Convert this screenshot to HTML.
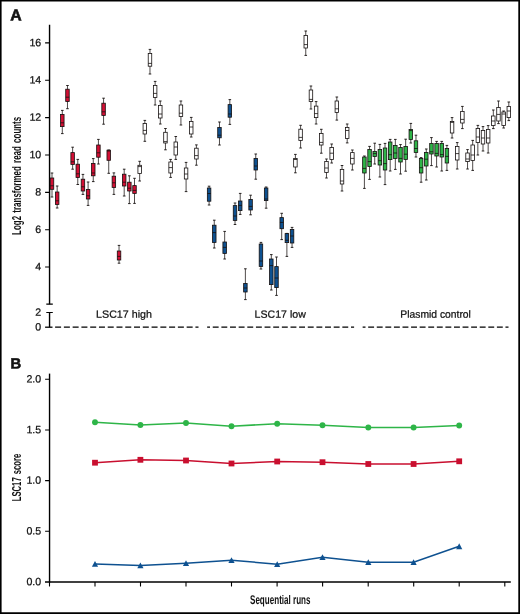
<!DOCTYPE html>
<html>
<head>
<meta charset="utf-8">
<title>Figure</title>
<style>
html,body{margin:0;padding:0;background:#fff;}
body{width:520px;height:614px;overflow:hidden;font-family:"Liberation Sans",sans-serif;}
svg{display:block;will-change:transform;}
svg text{font-family:"Liberation Sans",sans-serif;fill:#111;stroke:#111;stroke-width:0.24px;}
</style>
</head>
<body>
<svg width="520" height="614" viewBox="0 0 520 614">
<rect x="0" y="0" width="520" height="614" fill="#fff"/>
<path d="M0 0H520V614H0Z M1.6 1.4V612.25H518.3V1.4Z" fill="#000" fill-rule="evenodd"/>
<g stroke="#000" fill="none">
<path d="M49.55 24.8V304.2" stroke-width="1.4"/>
<path d="M46.3 304.15H52.8M46.3 312.45H52.8" stroke-width="1.1"/>
<path d="M49.55 312.45V327.2" stroke-width="1.4"/>
<path d="M45.1 42.9H49.55M45.1 80.3H49.55M45.1 117.6H49.55M45.1 155.0H49.55M45.1 192.35H49.55M45.1 229.7H49.55M45.1 267.05H49.55" stroke-width="1.1"/>
<path d="M45.1 327.2H52.5" stroke-width="1.3"/>
<path d="M55.1 327.2H198.5" stroke-width="1.3" stroke-dasharray="6 2.77"/>
<path d="M207.15 327.2H354.1" stroke-width="1.3" stroke-dasharray="5.9 2.74" stroke-dashoffset="3.05"/>
<path d="M362.65 327.2H508.5" stroke-width="1.3" stroke-dasharray="5.9 2.68" stroke-dashoffset="3.05"/>
<path d="M49.55 373.6V582.7" stroke-width="1.4"/>
<path d="M45.0 581.95H510.8" stroke-width="1.6"/>
<path d="M45.1 379.3H49.55M45.1 430.0H49.55M45.1 480.6H49.55M45.1 531.2H49.55" stroke-width="1.1"/>
<path d="M49.5 582.1V586.5M95.0 582.1V586.5M140.5 582.1V586.5M186.0 582.1V586.5M231.5 582.1V586.5M277.1 582.1V586.5M322.6 582.1V586.5M368.2 582.1V586.5M413.7 582.1V586.5M459.2 582.1V586.5M504.8 582.1V586.5" stroke-width="1.1"/>
</g>
<g stroke="#15100F" fill="none" stroke-linecap="butt">
<path d="M52.00 173.00V197.00" stroke-width="0.75"/><path d="M50.70 173.00h2.6M50.70 197.00h2.6" stroke-width="0.9"/><rect x="50.25" y="178.00" width="3.5" height="11.30" fill="#D20F34" stroke-width="0.8"/><path d="M50.25 185.80h3.5" stroke-width="0.8"/>
<path d="M57.16 186.00V208.00" stroke-width="0.75"/><path d="M55.86 186.00h2.6M55.86 208.00h2.6" stroke-width="0.9"/><rect x="55.41" y="192.00" width="3.5" height="12.40" fill="#D20F34" stroke-width="0.8"/><path d="M55.41 200.80h3.5" stroke-width="0.8"/>
<path d="M62.31 110.40V133.60" stroke-width="0.75"/><path d="M61.01 110.40h2.6M61.01 133.60h2.6" stroke-width="0.9"/><rect x="60.56" y="114.40" width="3.5" height="12.20" fill="#D20F34" stroke-width="0.8"/><path d="M60.56 122.80h3.5" stroke-width="0.8"/>
<path d="M67.47 85.50V108.70" stroke-width="0.75"/><path d="M66.17 85.50h2.6M66.17 108.70h2.6" stroke-width="0.9"/><rect x="65.72" y="89.20" width="3.5" height="12.30" fill="#D20F34" stroke-width="0.8"/><path d="M65.72 97.20h3.5" stroke-width="0.8"/>
<path d="M72.63 147.20V169.20" stroke-width="0.75"/><path d="M71.33 147.20h2.6M71.33 169.20h2.6" stroke-width="0.9"/><rect x="70.88" y="152.60" width="3.5" height="11.80" fill="#D20F34" stroke-width="0.8"/><path d="M70.88 161.80h3.5" stroke-width="0.8"/>
<path d="M77.78 159.40V184.50" stroke-width="0.75"/><path d="M76.48 159.40h2.6M76.48 184.50h2.6" stroke-width="0.9"/><rect x="76.03" y="164.20" width="3.5" height="13.40" fill="#D20F34" stroke-width="0.8"/><path d="M76.03 173.80h3.5" stroke-width="0.8"/>
<path d="M82.94 174.40V194.40" stroke-width="0.75"/><path d="M81.64 174.40h2.6M81.64 194.40h2.6" stroke-width="0.9"/><rect x="81.19" y="179.20" width="3.5" height="11.80" fill="#D20F34" stroke-width="0.8"/><path d="M81.19 186.80h3.5" stroke-width="0.8"/>
<path d="M88.10 182.00V205.40" stroke-width="0.75"/><path d="M86.80 182.00h2.6M86.80 205.40h2.6" stroke-width="0.9"/><rect x="86.35" y="189.40" width="3.5" height="9.60" fill="#D20F34" stroke-width="0.8"/><path d="M86.35 195.80h3.5" stroke-width="0.8"/>
<path d="M93.26 158.60V181.60" stroke-width="0.75"/><path d="M91.96 158.60h2.6M91.96 181.60h2.6" stroke-width="0.9"/><rect x="91.51" y="163.40" width="3.5" height="12.40" fill="#D20F34" stroke-width="0.8"/><path d="M91.51 173.00h3.5" stroke-width="0.8"/>
<path d="M98.41 139.40V164.00" stroke-width="0.75"/><path d="M97.11 139.40h2.6M97.11 164.00h2.6" stroke-width="0.9"/><rect x="96.66" y="145.00" width="3.5" height="12.20" fill="#D20F34" stroke-width="0.8"/><path d="M96.66 152.80h3.5" stroke-width="0.8"/>
<path d="M103.57 98.20V124.20" stroke-width="0.75"/><path d="M102.27 98.20h2.6M102.27 124.20h2.6" stroke-width="0.9"/><rect x="101.82" y="103.20" width="3.5" height="12.20" fill="#D20F34" stroke-width="0.8"/><path d="M101.82 111.80h3.5" stroke-width="0.8"/>
<path d="M108.73 150.00V173.30" stroke-width="0.75"/><path d="M107.43 150.00h2.6M107.43 173.30h2.6" stroke-width="0.9"/><rect x="106.98" y="150.20" width="3.5" height="10.10" fill="#D20F34" stroke-width="0.8"/><path d="M106.98 151.00h3.5" stroke-width="0.8"/>
<path d="M113.88 172.90V194.40" stroke-width="0.75"/><path d="M112.58 172.90h2.6M112.58 194.40h2.6" stroke-width="0.9"/><rect x="112.13" y="176.20" width="3.5" height="11.30" fill="#D20F34" stroke-width="0.8"/><path d="M112.13 182.80h3.5" stroke-width="0.8"/>
<path d="M119.04 245.40V263.20" stroke-width="0.75"/><path d="M117.74 245.40h2.6M117.74 263.20h2.6" stroke-width="0.9"/><rect x="117.29" y="251.00" width="3.5" height="9.00" fill="#D20F34" stroke-width="0.8"/><path d="M117.29 256.40h3.5" stroke-width="0.8"/>
<path d="M124.20 169.20V196.00" stroke-width="0.75"/><path d="M122.90 169.20h2.6M122.90 196.00h2.6" stroke-width="0.9"/><rect x="122.45" y="174.20" width="3.5" height="11.80" fill="#D20F34" stroke-width="0.8"/><path d="M122.45 182.20h3.5" stroke-width="0.8"/>
<path d="M129.36 175.80V203.60" stroke-width="0.75"/><path d="M128.06 175.80h2.6M128.06 203.60h2.6" stroke-width="0.9"/><rect x="127.61" y="182.20" width="3.5" height="8.80" fill="#D20F34" stroke-width="0.8"/><path d="M127.61 188.20h3.5" stroke-width="0.8"/>
<path d="M134.51 178.30V203.40" stroke-width="0.75"/><path d="M133.21 178.30h2.6M133.21 203.40h2.6" stroke-width="0.9"/><rect x="132.76" y="185.60" width="3.5" height="7.80" fill="#D20F34" stroke-width="0.8"/><path d="M132.76 190.40h3.5" stroke-width="0.8"/>
<path d="M139.67 161.30V181.00" stroke-width="0.75"/><path d="M138.37 161.30h2.6M138.37 181.00h2.6" stroke-width="0.9"/><rect x="137.92" y="165.30" width="3.5" height="8.10" fill="#FFFFFF" stroke-width="0.8"/><path d="M137.92 166.60h3.5" stroke-width="0.8"/>
<path d="M144.83 120.40V141.30" stroke-width="0.75"/><path d="M143.53 120.40h2.6M143.53 141.30h2.6" stroke-width="0.9"/><rect x="143.08" y="123.50" width="3.5" height="10.50" fill="#FFFFFF" stroke-width="0.8"/><path d="M143.08 130.40h3.5" stroke-width="0.8"/>
<path d="M149.98 49.40V74.00" stroke-width="0.75"/><path d="M148.68 49.40h2.6M148.68 74.00h2.6" stroke-width="0.9"/><rect x="148.23" y="53.40" width="3.5" height="12.80" fill="#FFFFFF" stroke-width="0.8"/><path d="M148.23 63.40h3.5" stroke-width="0.8"/>
<path d="M155.14 81.40V105.00" stroke-width="0.75"/><path d="M153.84 81.40h2.6M153.84 105.00h2.6" stroke-width="0.9"/><rect x="153.39" y="85.40" width="3.5" height="12.00" fill="#FFFFFF" stroke-width="0.8"/><path d="M153.39 93.40h3.5" stroke-width="0.8"/>
<path d="M160.30 101.00V124.00" stroke-width="0.75"/><path d="M159.00 101.00h2.6M159.00 124.00h2.6" stroke-width="0.9"/><rect x="158.55" y="105.40" width="3.5" height="12.60" fill="#FFFFFF" stroke-width="0.8"/><path d="M158.55 114.00h3.5" stroke-width="0.8"/>
<path d="M165.45 128.50V149.80" stroke-width="0.75"/><path d="M164.15 128.50h2.6M164.15 149.80h2.6" stroke-width="0.9"/><rect x="163.70" y="132.30" width="3.5" height="10.70" fill="#FFFFFF" stroke-width="0.8"/><path d="M163.70 141.60h3.5" stroke-width="0.8"/>
<path d="M170.61 159.40V177.40" stroke-width="0.75"/><path d="M169.31 159.40h2.6M169.31 177.40h2.6" stroke-width="0.9"/><rect x="168.86" y="162.00" width="3.5" height="11.00" fill="#FFFFFF" stroke-width="0.8"/><path d="M168.86 167.60h3.5" stroke-width="0.8"/>
<path d="M175.77 136.50V159.40" stroke-width="0.75"/><path d="M174.47 136.50h2.6M174.47 159.40h2.6" stroke-width="0.9"/><rect x="174.02" y="142.00" width="3.5" height="13.00" fill="#FFFFFF" stroke-width="0.8"/><path d="M174.02 147.00h3.5" stroke-width="0.8"/>
<path d="M180.93 101.00V125.00" stroke-width="0.75"/><path d="M179.62 101.00h2.6M179.62 125.00h2.6" stroke-width="0.9"/><rect x="179.18" y="105.00" width="3.5" height="11.40" fill="#FFFFFF" stroke-width="0.8"/><path d="M179.18 113.20h3.5" stroke-width="0.8"/>
<path d="M186.08 162.40V191.60" stroke-width="0.75"/><path d="M184.78 162.40h2.6M184.78 191.60h2.6" stroke-width="0.9"/><rect x="184.33" y="168.00" width="3.5" height="11.00" fill="#FFFFFF" stroke-width="0.8"/><path d="M184.33 174.00h3.5" stroke-width="0.8"/>
<path d="M191.24 117.40V137.00" stroke-width="0.75"/><path d="M189.94 117.40h2.6M189.94 137.00h2.6" stroke-width="0.9"/><rect x="189.49" y="121.40" width="3.5" height="12.60" fill="#FFFFFF" stroke-width="0.8"/><path d="M189.49 127.00h3.5" stroke-width="0.8"/>
<path d="M196.40 144.90V165.20" stroke-width="0.75"/><path d="M195.10 144.90h2.6M195.10 165.20h2.6" stroke-width="0.9"/><rect x="194.65" y="148.20" width="3.5" height="10.80" fill="#FFFFFF" stroke-width="0.8"/><path d="M194.65 155.60h3.5" stroke-width="0.8"/>
<path d="M209.10 186.20V205.00" stroke-width="0.75"/><path d="M207.80 186.20h2.6M207.80 205.00h2.6" stroke-width="0.9"/><rect x="207.35" y="188.00" width="3.5" height="13.20" fill="#0E5190" stroke-width="0.8"/><path d="M207.35 193.50h3.5" stroke-width="0.8"/>
<path d="M214.28 220.20V248.00" stroke-width="0.75"/><path d="M212.98 220.20h2.6M212.98 248.00h2.6" stroke-width="0.9"/><rect x="212.53" y="225.20" width="3.5" height="17.20" fill="#0E5190" stroke-width="0.8"/><path d="M212.53 232.60h3.5" stroke-width="0.8"/>
<path d="M219.47 122.00V145.00" stroke-width="0.75"/><path d="M218.17 122.00h2.6M218.17 145.00h2.6" stroke-width="0.9"/><rect x="217.72" y="127.50" width="3.5" height="10.30" fill="#0E5190" stroke-width="0.8"/><path d="M217.72 135.20h3.5" stroke-width="0.8"/>
<path d="M224.66 231.40V259.00" stroke-width="0.75"/><path d="M223.35 231.40h2.6M223.35 259.00h2.6" stroke-width="0.9"/><rect x="222.91" y="242.00" width="3.5" height="11.40" fill="#0E5190" stroke-width="0.8"/><path d="M222.91 247.40h3.5" stroke-width="0.8"/>
<path d="M229.84 99.60V124.40" stroke-width="0.75"/><path d="M228.54 99.60h2.6M228.54 124.40h2.6" stroke-width="0.9"/><rect x="228.09" y="104.60" width="3.5" height="12.60" fill="#0E5190" stroke-width="0.8"/><path d="M228.09 114.00h3.5" stroke-width="0.8"/>
<path d="M235.02 203.00V224.50" stroke-width="0.75"/><path d="M233.72 203.00h2.6M233.72 224.50h2.6" stroke-width="0.9"/><rect x="233.27" y="205.60" width="3.5" height="14.80" fill="#0E5190" stroke-width="0.8"/><path d="M233.27 216.00h3.5" stroke-width="0.8"/>
<path d="M240.21 193.40V214.40" stroke-width="0.75"/><path d="M238.91 193.40h2.6M238.91 214.40h2.6" stroke-width="0.9"/><rect x="238.46" y="201.00" width="3.5" height="9.60" fill="#0E5190" stroke-width="0.8"/><path d="M238.46 205.40h3.5" stroke-width="0.8"/>
<path d="M245.39 268.80V299.60" stroke-width="0.75"/><path d="M244.09 268.80h2.6M244.09 299.60h2.6" stroke-width="0.9"/><rect x="243.64" y="283.40" width="3.5" height="8.60" fill="#0E5190" stroke-width="0.8"/><path d="M243.64 288.00h3.5" stroke-width="0.8"/>
<path d="M250.58 195.20V214.80" stroke-width="0.75"/><path d="M249.28 195.20h2.6M249.28 214.80h2.6" stroke-width="0.9"/><rect x="248.83" y="199.40" width="3.5" height="10.60" fill="#0E5190" stroke-width="0.8"/><path d="M248.83 206.40h3.5" stroke-width="0.8"/>
<path d="M255.76 154.00V179.20" stroke-width="0.75"/><path d="M254.46 154.00h2.6M254.46 179.20h2.6" stroke-width="0.9"/><rect x="254.01" y="158.40" width="3.5" height="11.60" fill="#0E5190" stroke-width="0.8"/><path d="M254.01 166.00h3.5" stroke-width="0.8"/>
<path d="M260.95 242.40V269.00" stroke-width="0.75"/><path d="M259.65 242.40h2.6M259.65 269.00h2.6" stroke-width="0.9"/><rect x="259.20" y="244.00" width="3.5" height="22.40" fill="#0E5190" stroke-width="0.8"/><path d="M259.20 261.00h3.5" stroke-width="0.8"/>
<path d="M266.13 187.00V208.20" stroke-width="0.75"/><path d="M264.83 187.00h2.6M264.83 208.20h2.6" stroke-width="0.9"/><rect x="264.38" y="188.00" width="3.5" height="12.60" fill="#0E5190" stroke-width="0.8"/><path d="M264.38 199.00h3.5" stroke-width="0.8"/>
<path d="M271.32 254.60V290.00" stroke-width="0.75"/><path d="M270.02 254.60h2.6M270.02 290.00h2.6" stroke-width="0.9"/><rect x="269.57" y="259.00" width="3.5" height="25.60" fill="#0E5190" stroke-width="0.8"/><path d="M269.57 265.60h3.5" stroke-width="0.8"/>
<path d="M276.50 257.00V295.40" stroke-width="0.75"/><path d="M275.20 257.00h2.6M275.20 295.40h2.6" stroke-width="0.9"/><rect x="274.75" y="266.60" width="3.5" height="21.00" fill="#0E5190" stroke-width="0.8"/><path d="M274.75 278.00h3.5" stroke-width="0.8"/>
<path d="M281.69 213.30V239.60" stroke-width="0.75"/><path d="M280.39 213.30h2.6M280.39 239.60h2.6" stroke-width="0.9"/><rect x="279.94" y="217.60" width="3.5" height="11.10" fill="#0E5190" stroke-width="0.8"/><path d="M279.94 222.40h3.5" stroke-width="0.8"/>
<path d="M286.88 233.40V256.40" stroke-width="0.75"/><path d="M285.57 233.40h2.6M285.57 256.40h2.6" stroke-width="0.9"/><rect x="285.12" y="233.60" width="3.5" height="9.00" fill="#0E5190" stroke-width="0.8"/><path d="M285.12 240.30h3.5" stroke-width="0.8"/>
<path d="M292.06 227.40V247.40" stroke-width="0.75"/><path d="M290.76 227.40h2.6M290.76 247.40h2.6" stroke-width="0.9"/><rect x="290.31" y="229.40" width="3.5" height="13.60" fill="#0E5190" stroke-width="0.8"/><path d="M290.31 236.00h3.5" stroke-width="0.8"/>
<path d="M295.40 154.40V172.80" stroke-width="0.75"/><path d="M294.10 154.40h2.6M294.10 172.80h2.6" stroke-width="0.9"/><rect x="293.65" y="158.40" width="3.5" height="8.60" fill="#FFFFFF" stroke-width="0.8"/><path d="M293.65 159.50h3.5" stroke-width="0.8"/>
<path d="M300.58 125.30V148.00" stroke-width="0.75"/><path d="M299.28 125.30h2.6M299.28 148.00h2.6" stroke-width="0.9"/><rect x="298.83" y="129.20" width="3.5" height="11.20" fill="#FFFFFF" stroke-width="0.8"/><path d="M298.83 137.40h3.5" stroke-width="0.8"/>
<path d="M305.76 31.00V55.40" stroke-width="0.75"/><path d="M304.46 31.00h2.6M304.46 55.40h2.6" stroke-width="0.9"/><rect x="304.01" y="35.40" width="3.5" height="12.60" fill="#FFFFFF" stroke-width="0.8"/><path d="M304.01 44.60h3.5" stroke-width="0.8"/>
<path d="M310.94 86.00V109.00" stroke-width="0.75"/><path d="M309.64 86.00h2.6M309.64 109.00h2.6" stroke-width="0.9"/><rect x="309.19" y="90.00" width="3.5" height="11.40" fill="#FFFFFF" stroke-width="0.8"/><path d="M309.19 99.40h3.5" stroke-width="0.8"/>
<path d="M316.12 101.60V124.00" stroke-width="0.75"/><path d="M314.82 101.60h2.6M314.82 124.00h2.6" stroke-width="0.9"/><rect x="314.37" y="106.10" width="3.5" height="11.50" fill="#FFFFFF" stroke-width="0.8"/><path d="M314.37 113.60h3.5" stroke-width="0.8"/>
<path d="M321.30 129.30V153.20" stroke-width="0.75"/><path d="M320.00 129.30h2.6M320.00 153.20h2.6" stroke-width="0.9"/><rect x="319.55" y="133.40" width="3.5" height="11.60" fill="#FFFFFF" stroke-width="0.8"/><path d="M319.55 142.40h3.5" stroke-width="0.8"/>
<path d="M326.48 159.00V178.00" stroke-width="0.75"/><path d="M325.18 159.00h2.6M325.18 178.00h2.6" stroke-width="0.9"/><rect x="324.73" y="161.40" width="3.5" height="11.00" fill="#FFFFFF" stroke-width="0.8"/><path d="M324.73 168.00h3.5" stroke-width="0.8"/>
<path d="M331.66 144.00V163.00" stroke-width="0.75"/><path d="M330.36 144.00h2.6M330.36 163.00h2.6" stroke-width="0.9"/><rect x="329.91" y="147.40" width="3.5" height="12.10" fill="#FFFFFF" stroke-width="0.8"/><path d="M329.91 153.20h3.5" stroke-width="0.8"/>
<path d="M336.84 97.00V120.10" stroke-width="0.75"/><path d="M335.54 97.00h2.6M335.54 120.10h2.6" stroke-width="0.9"/><rect x="335.09" y="101.00" width="3.5" height="11.40" fill="#FFFFFF" stroke-width="0.8"/><path d="M335.09 108.80h3.5" stroke-width="0.8"/>
<path d="M342.02 165.50V191.00" stroke-width="0.75"/><path d="M340.72 165.50h2.6M340.72 191.00h2.6" stroke-width="0.9"/><rect x="340.27" y="169.40" width="3.5" height="14.60" fill="#FFFFFF" stroke-width="0.8"/><path d="M340.27 181.00h3.5" stroke-width="0.8"/>
<path d="M347.20 124.00V142.90" stroke-width="0.75"/><path d="M345.90 124.00h2.6M345.90 142.90h2.6" stroke-width="0.9"/><rect x="345.45" y="127.40" width="3.5" height="11.00" fill="#FFFFFF" stroke-width="0.8"/><path d="M345.45 130.50h3.5" stroke-width="0.8"/>
<path d="M352.38 150.00V170.00" stroke-width="0.75"/><path d="M351.08 150.00h2.6M351.08 170.00h2.6" stroke-width="0.9"/><rect x="350.63" y="152.60" width="3.5" height="11.40" fill="#FFFFFF" stroke-width="0.8"/><path d="M350.63 158.40h3.5" stroke-width="0.8"/>
<path d="M364.40 156.00V188.40" stroke-width="0.75"/><path d="M363.10 156.00h2.6M363.10 188.40h2.6" stroke-width="0.9"/><rect x="362.65" y="157.00" width="3.5" height="16.00" fill="#2EB548" stroke-width="0.8"/><path d="M362.65 168.40h3.5" stroke-width="0.8"/>
<path d="M369.56 146.40V179.40" stroke-width="0.75"/><path d="M368.26 146.40h2.6M368.26 179.40h2.6" stroke-width="0.9"/><rect x="367.81" y="149.40" width="3.5" height="17.20" fill="#2EB548" stroke-width="0.8"/><path d="M367.81 161.60h3.5" stroke-width="0.8"/>
<path d="M374.71 143.20V164.00" stroke-width="0.75"/><path d="M373.41 143.20h2.6M373.41 164.00h2.6" stroke-width="0.9"/><rect x="372.96" y="151.40" width="3.5" height="5.20" fill="#2EB548" stroke-width="0.8"/><path d="M372.96 153.60h3.5" stroke-width="0.8"/>
<path d="M379.87 144.40V177.00" stroke-width="0.75"/><path d="M378.57 144.40h2.6M378.57 177.00h2.6" stroke-width="0.9"/><rect x="378.12" y="149.40" width="3.5" height="15.60" fill="#2EB548" stroke-width="0.8"/><path d="M378.12 160.70h3.5" stroke-width="0.8"/>
<path d="M385.03 143.40V184.60" stroke-width="0.75"/><path d="M383.73 143.40h2.6M383.73 184.60h2.6" stroke-width="0.9"/><rect x="383.28" y="148.00" width="3.5" height="22.00" fill="#2EB548" stroke-width="0.8"/><path d="M383.28 163.60h3.5" stroke-width="0.8"/>
<path d="M390.19 139.40V171.00" stroke-width="0.75"/><path d="M388.88 139.40h2.6M388.88 171.00h2.6" stroke-width="0.9"/><rect x="388.44" y="142.00" width="3.5" height="17.60" fill="#2EB548" stroke-width="0.8"/><path d="M388.44 154.70h3.5" stroke-width="0.8"/>
<path d="M395.34 139.40V169.40" stroke-width="0.75"/><path d="M394.04 139.40h2.6M394.04 169.40h2.6" stroke-width="0.9"/><rect x="393.59" y="145.40" width="3.5" height="13.00" fill="#2EB548" stroke-width="0.8"/><path d="M393.59 153.00h3.5" stroke-width="0.8"/>
<path d="M400.50 144.60V174.00" stroke-width="0.75"/><path d="M399.20 144.60h2.6M399.20 174.00h2.6" stroke-width="0.9"/><rect x="398.75" y="147.40" width="3.5" height="14.60" fill="#2EB548" stroke-width="0.8"/><path d="M398.75 158.40h3.5" stroke-width="0.8"/>
<path d="M405.66 139.20V171.20" stroke-width="0.75"/><path d="M404.36 139.20h2.6M404.36 171.20h2.6" stroke-width="0.9"/><rect x="403.91" y="146.40" width="3.5" height="13.00" fill="#2EB548" stroke-width="0.8"/><path d="M403.91 154.20h3.5" stroke-width="0.8"/>
<path d="M410.81 123.40V143.00" stroke-width="0.75"/><path d="M409.51 123.40h2.6M409.51 143.00h2.6" stroke-width="0.9"/><rect x="409.06" y="129.40" width="3.5" height="10.20" fill="#2EB548" stroke-width="0.8"/><path d="M409.06 130.60h3.5" stroke-width="0.8"/>
<path d="M415.97 135.20V157.00" stroke-width="0.75"/><path d="M414.67 135.20h2.6M414.67 157.00h2.6" stroke-width="0.9"/><rect x="414.22" y="140.80" width="3.5" height="11.60" fill="#2EB548" stroke-width="0.8"/><path d="M414.22 148.50h3.5" stroke-width="0.8"/>
<path d="M421.13 157.60V182.20" stroke-width="0.75"/><path d="M419.83 157.60h2.6M419.83 182.20h2.6" stroke-width="0.9"/><rect x="419.38" y="158.40" width="3.5" height="14.60" fill="#2EB548" stroke-width="0.8"/><path d="M419.38 167.70h3.5" stroke-width="0.8"/>
<path d="M426.28 149.00V180.00" stroke-width="0.75"/><path d="M424.98 149.00h2.6M424.98 180.00h2.6" stroke-width="0.9"/><rect x="424.53" y="152.40" width="3.5" height="13.60" fill="#2EB548" stroke-width="0.8"/><path d="M424.53 159.20h3.5" stroke-width="0.8"/>
<path d="M431.44 137.60V165.60" stroke-width="0.75"/><path d="M430.14 137.60h2.6M430.14 165.60h2.6" stroke-width="0.9"/><rect x="429.69" y="143.40" width="3.5" height="10.60" fill="#2EB548" stroke-width="0.8"/><path d="M429.69 151.80h3.5" stroke-width="0.8"/>
<path d="M436.60 141.40V167.00" stroke-width="0.75"/><path d="M435.30 141.40h2.6M435.30 167.00h2.6" stroke-width="0.9"/><rect x="434.85" y="143.40" width="3.5" height="12.60" fill="#2EB548" stroke-width="0.8"/><path d="M434.85 153.40h3.5" stroke-width="0.8"/>
<path d="M441.75 141.40V171.00" stroke-width="0.75"/><path d="M440.45 141.40h2.6M440.45 171.00h2.6" stroke-width="0.9"/><rect x="440.00" y="143.40" width="3.5" height="13.60" fill="#2EB548" stroke-width="0.8"/><path d="M440.00 154.60h3.5" stroke-width="0.8"/>
<path d="M446.91 145.40V170.40" stroke-width="0.75"/><path d="M445.61 145.40h2.6M445.61 170.40h2.6" stroke-width="0.9"/><rect x="445.16" y="148.40" width="3.5" height="14.60" fill="#2EB548" stroke-width="0.8"/><path d="M445.16 156.40h3.5" stroke-width="0.8"/>
<path d="M452.07 117.60V138.00" stroke-width="0.75"/><path d="M450.77 117.60h2.6M450.77 138.00h2.6" stroke-width="0.9"/><rect x="450.32" y="121.40" width="3.5" height="11.60" fill="#FFFFFF" stroke-width="0.8"/><path d="M450.32 122.40h3.5" stroke-width="0.8"/>
<path d="M457.23 142.60V169.00" stroke-width="0.75"/><path d="M455.93 142.60h2.6M455.93 169.00h2.6" stroke-width="0.9"/><rect x="455.48" y="146.40" width="3.5" height="13.60" fill="#FFFFFF" stroke-width="0.8"/><path d="M455.48 153.60h3.5" stroke-width="0.8"/>
<path d="M462.38 106.40V128.60" stroke-width="0.75"/><path d="M461.08 106.40h2.6M461.08 128.60h2.6" stroke-width="0.9"/><rect x="460.63" y="111.40" width="3.5" height="11.60" fill="#FFFFFF" stroke-width="0.8"/><path d="M460.63 119.40h3.5" stroke-width="0.8"/>
<path d="M467.54 149.60V169.00" stroke-width="0.75"/><path d="M466.24 149.60h2.6M466.24 169.00h2.6" stroke-width="0.9"/><rect x="465.79" y="153.00" width="3.5" height="8.60" fill="#FFFFFF" stroke-width="0.8"/><path d="M465.79 159.00h3.5" stroke-width="0.8"/>
<path d="M472.70 140.40V170.40" stroke-width="0.75"/><path d="M471.40 140.40h2.6M471.40 170.40h2.6" stroke-width="0.9"/><rect x="470.95" y="145.00" width="3.5" height="15.40" fill="#FFFFFF" stroke-width="0.8"/><path d="M470.95 155.00h3.5" stroke-width="0.8"/>
<path d="M477.85 125.40V155.00" stroke-width="0.75"/><path d="M476.55 125.40h2.6M476.55 155.00h2.6" stroke-width="0.9"/><rect x="476.10" y="128.40" width="3.5" height="14.20" fill="#FFFFFF" stroke-width="0.8"/><path d="M476.10 137.00h3.5" stroke-width="0.8"/>
<path d="M483.01 126.60V151.00" stroke-width="0.75"/><path d="M481.71 126.60h2.6M481.71 151.00h2.6" stroke-width="0.9"/><rect x="481.26" y="130.40" width="3.5" height="13.60" fill="#FFFFFF" stroke-width="0.8"/><path d="M481.26 138.00h3.5" stroke-width="0.8"/>
<path d="M488.17 125.60V153.00" stroke-width="0.75"/><path d="M486.87 125.60h2.6M486.87 153.00h2.6" stroke-width="0.9"/><rect x="486.42" y="129.40" width="3.5" height="13.60" fill="#FFFFFF" stroke-width="0.8"/><path d="M486.42 138.00h3.5" stroke-width="0.8"/>
<path d="M493.32 110.00V128.60" stroke-width="0.75"/><path d="M492.02 110.00h2.6M492.02 128.60h2.6" stroke-width="0.9"/><rect x="491.57" y="116.00" width="3.5" height="9.40" fill="#FFFFFF" stroke-width="0.8"/><path d="M491.57 121.00h3.5" stroke-width="0.8"/>
<path d="M498.48 101.00V123.60" stroke-width="0.75"/><path d="M497.18 101.00h2.6M497.18 123.60h2.6" stroke-width="0.9"/><rect x="496.73" y="107.40" width="3.5" height="13.60" fill="#FFFFFF" stroke-width="0.8"/><path d="M496.73 114.40h3.5" stroke-width="0.8"/>
<path d="M503.64 111.00V128.00" stroke-width="0.75"/><path d="M502.34 111.00h2.6M502.34 128.00h2.6" stroke-width="0.9"/><rect x="501.89" y="112.00" width="3.5" height="13.40" fill="#FFFFFF" stroke-width="0.8"/><path d="M501.89 114.00h3.5" stroke-width="0.8"/>
<path d="M508.80 102.00V120.60" stroke-width="0.75"/><path d="M507.50 102.00h2.6M507.50 120.60h2.6" stroke-width="0.9"/><rect x="507.05" y="106.40" width="3.5" height="11.20" fill="#FFFFFF" stroke-width="0.8"/><path d="M507.05 111.00h3.5" stroke-width="0.8"/>
</g>
<polyline points="95.0,422.3 140.4,425.0 186.0,423.0 231.5,426.2 277.2,423.7 322.5,425.2 368.3,427.5 413.6,427.5 459.2,425.5" fill="none" stroke="#2EB548" stroke-width="1.55"/>
<polyline points="95.0,462.7 140.4,459.8 186.0,460.5 231.5,463.5 277.2,461.5 322.5,462.2 368.3,464.0 413.6,464.0 459.2,461.3" fill="none" stroke="#C90F2F" stroke-width="1.55"/>
<polyline points="95.0,563.9 140.4,565.4 186.0,563.2 231.5,560.2 277.2,564.2 322.5,557.2 368.3,562.2 413.6,562.2 459.2,546.3" fill="none" stroke="#0E5190" stroke-width="1.55"/>
<circle cx="95.0" cy="422.3" r="2.95" fill="#2EB548"/>
<circle cx="140.4" cy="425.0" r="2.95" fill="#2EB548"/>
<circle cx="186.0" cy="423.0" r="2.95" fill="#2EB548"/>
<circle cx="231.5" cy="426.2" r="2.95" fill="#2EB548"/>
<circle cx="277.2" cy="423.7" r="2.95" fill="#2EB548"/>
<circle cx="322.5" cy="425.2" r="2.95" fill="#2EB548"/>
<circle cx="368.3" cy="427.5" r="2.95" fill="#2EB548"/>
<circle cx="413.6" cy="427.5" r="2.95" fill="#2EB548"/>
<circle cx="459.2" cy="425.5" r="2.95" fill="#2EB548"/>
<rect x="92.1" y="459.8" width="5.8" height="5.8" fill="#C90F2F"/>
<rect x="137.5" y="456.9" width="5.8" height="5.8" fill="#C90F2F"/>
<rect x="183.1" y="457.6" width="5.8" height="5.8" fill="#C90F2F"/>
<rect x="228.6" y="460.6" width="5.8" height="5.8" fill="#C90F2F"/>
<rect x="274.3" y="458.6" width="5.8" height="5.8" fill="#C90F2F"/>
<rect x="319.6" y="459.3" width="5.8" height="5.8" fill="#C90F2F"/>
<rect x="365.4" y="461.1" width="5.8" height="5.8" fill="#C90F2F"/>
<rect x="410.7" y="461.1" width="5.8" height="5.8" fill="#C90F2F"/>
<rect x="456.3" y="458.4" width="5.8" height="5.8" fill="#C90F2F"/>
<path d="M95.0 560.9L98.1 566.8H91.9Z" fill="#0E5190"/>
<path d="M140.4 562.4L143.5 568.3H137.3Z" fill="#0E5190"/>
<path d="M186.0 560.2L189.1 566.1H182.9Z" fill="#0E5190"/>
<path d="M231.5 557.2L234.6 563.1H228.4Z" fill="#0E5190"/>
<path d="M277.2 561.2L280.3 567.1H274.1Z" fill="#0E5190"/>
<path d="M322.5 554.2L325.6 560.1H319.4Z" fill="#0E5190"/>
<path d="M368.3 559.2L371.4 565.1H365.2Z" fill="#0E5190"/>
<path d="M413.6 559.2L416.7 565.1H410.5Z" fill="#0E5190"/>
<path d="M459.2 543.3L462.3 549.2H456.1Z" fill="#0E5190"/>
<text transform="translate(10.3 20.6) rotate(0.03)" font-size="15.8" font-weight="bold" style="stroke-width:0.6px">A</text>
<text transform="translate(10.4 368.6) rotate(0.03)" font-size="14.8" font-weight="bold" style="stroke-width:0.6px">B</text>
<text transform="translate(41.2 46.15) rotate(0.03)" font-size="10.6" text-anchor="end">16</text>
<text transform="translate(41.2 83.55) rotate(0.03)" font-size="10.6" text-anchor="end">14</text>
<text transform="translate(41.2 120.85) rotate(0.03)" font-size="10.6" text-anchor="end">12</text>
<text transform="translate(41.2 158.25) rotate(0.03)" font-size="10.6" text-anchor="end">10</text>
<text transform="translate(41.2 195.6) rotate(0.03)" font-size="10.6" text-anchor="end">8</text>
<text transform="translate(41.2 232.95) rotate(0.03)" font-size="10.6" text-anchor="end">6</text>
<text transform="translate(41.2 270.3) rotate(0.03)" font-size="10.6" text-anchor="end">4</text>
<text transform="translate(41.2 315.75) rotate(0.03)" font-size="10.6" text-anchor="end">2</text>
<text transform="translate(41.2 330.45) rotate(0.03)" font-size="10.6" text-anchor="end">0</text>
<text transform="translate(41.2 382.55) rotate(0.03)" font-size="10.6" text-anchor="end">2.0</text>
<text transform="translate(41.2 433.25) rotate(0.03)" font-size="10.6" text-anchor="end">1.5</text>
<text transform="translate(41.2 483.85) rotate(0.03)" font-size="10.6" text-anchor="end">1.0</text>
<text transform="translate(41.2 534.45) rotate(0.03)" font-size="10.6" text-anchor="end">0.5</text>
<text transform="translate(41.2 585.35) rotate(0.03)" font-size="10.6" text-anchor="end">0.0</text>
<text transform="translate(96.1 317.8) rotate(0.03)" font-size="10.5" textLength="55.8" lengthAdjust="spacingAndGlyphs">LSC17 high</text>
<text transform="translate(254.6 317.8) rotate(0.03)" font-size="10.5" textLength="51.2" lengthAdjust="spacingAndGlyphs">LSC17 low</text>
<text transform="translate(400.3 317.8) rotate(0.03)" font-size="10.5" textLength="70.6" lengthAdjust="spacingAndGlyphs">Plasmid control</text>
<text transform="translate(20.9 234.9) rotate(-90)" font-size="12.3" font-weight="bold" style="stroke-width:0;word-spacing:1.6px" textLength="118.1" lengthAdjust="spacingAndGlyphs">Log2 transformed read counts</text>
<text transform="translate(21.3 501.3) rotate(-90)" font-size="12.3" font-weight="bold" style="stroke-width:0;word-spacing:1.5px" textLength="47.6" lengthAdjust="spacingAndGlyphs">LSC17 score</text>
<text transform="translate(250 604.4) rotate(0.03)" font-size="12.6" font-weight="bold" style="stroke-width:0" textLength="60.5" lengthAdjust="spacingAndGlyphs">Sequential runs</text>
</svg>
</body>
</html>
